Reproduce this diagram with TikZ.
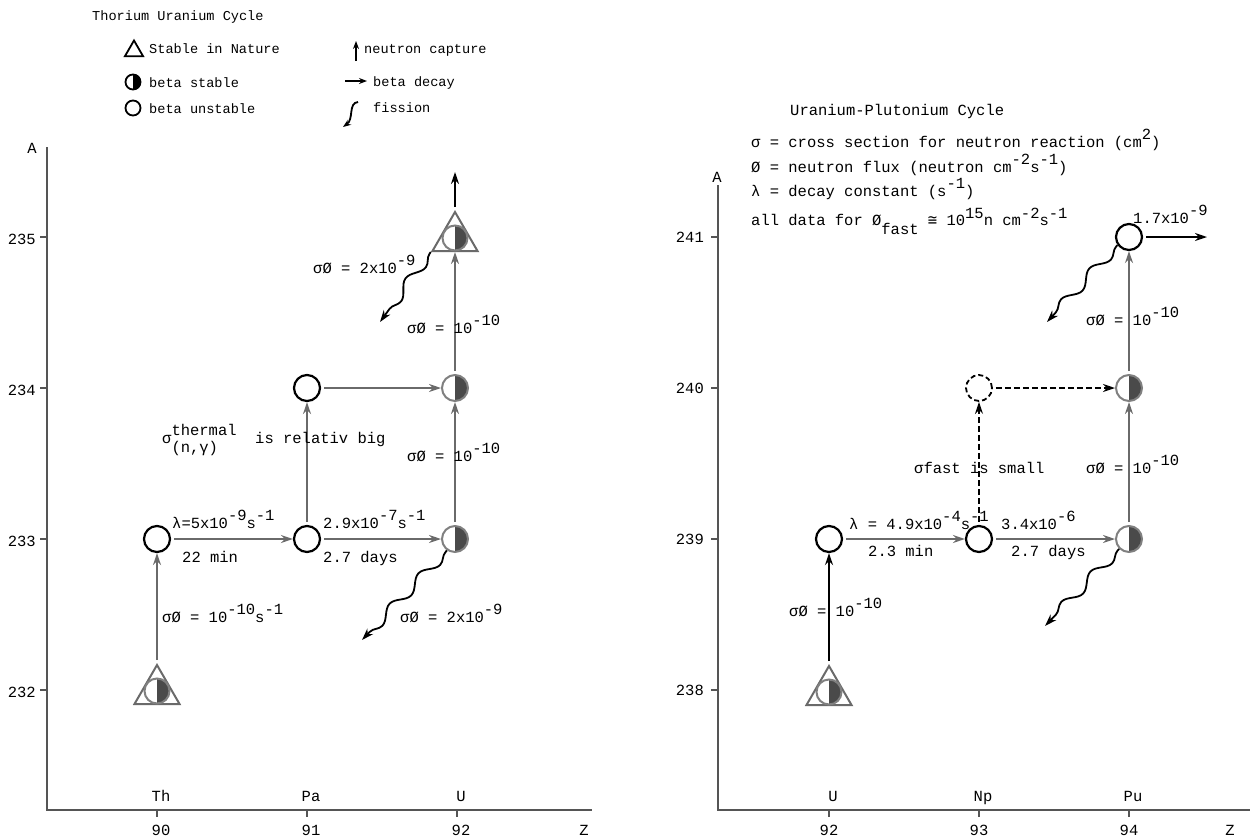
\documentclass[tikz,border=0pt]{standalone}
\usepackage{fontspec}
\setmainfont{Liberation Mono}
\newfontfamily\symfont{DejaVu Sans Mono}
\usetikzlibrary{arrows.meta,shapes.geometric,decorations.pathmorphing}

\newcommand{\up}[1]{\raisebox{0.5em}{#1}}
\newcommand{\dn}[1]{\raisebox{-0.6em}{#1}}
\definecolor{linegray}{HTML}{6A6A6A}
\definecolor{fillgray}{HTML}{4A4A4A}
\definecolor{axisgray}{HTML}{555555}

\tikzset{
  chartfont/.style={font=\fontsize{15.5}{18}\selectfont},
  legfont/.style={font=\fontsize{13.6}{16}\selectfont},
  lbl/.style={inner sep=0pt, anchor=base west},
  unstable/.style={circle, draw=black, line width=2.2pt, minimum size=26pt, inner sep=0pt},
  halfstable/.style={circle, draw=gray, line width=2pt, minimum size=26pt, inner sep=0pt,
    path picture={\fill[fillgray] (path picture bounding box.north) rectangle (path picture bounding box.south east);}},
  natural/.style={regular polygon, regular polygon sides=3, draw=linegray, line width=2pt,
    minimum size=52pt, inner sep=0pt},
  decay/.style={draw=linegray, line width=2pt, -{Stealth[length=12pt,width=8pt]}, shorten <=3pt},
  capture/.style={draw=black, line width=2pt, -{Stealth[length=12pt,width=8pt]}, shorten <=3pt},
  weak/.style={capture, line width=1.8pt, dash pattern=on 6pt off 3pt},
  fission/.style={draw=black, line width=1.8pt, -{Stealth[length=12pt,width=8pt]},
    decorate, decoration={snake, segment length=42pt, amplitude=5pt, pre length=2pt, post length=10pt}},
  axisline/.style={draw=axisgray, line width=2pt},
}

\begin{document}
\begin{tikzpicture}[x=1pt,y=-1pt]
\useasboundingbox (0,0) rectangle (1253,839);

% legend, left
\node[legfont,lbl] (thtitle) at (92,20) {Thorium Uranium Cycle};
\node[regular polygon, regular polygon sides=3, draw, line width=1.8pt, minimum size=21pt, inner sep=0pt] (legtri) at (134,51) {};
\node[circle, draw, line width=1.8pt, minimum size=15pt, inner sep=0pt,
  path picture={\fill (path picture bounding box.north) rectangle (path picture bounding box.south east);}] (leghalf) at (133,82) {};
\node[circle, draw, line width=1.8pt, minimum size=15pt, inner sep=0pt] (legcirc) at (133,108) {};
\node[legfont,lbl] (legtritxt) at (149,53) {Stable in Nature};
\node[legfont,lbl] (leghalftxt) at (149,87) {beta stable};
\node[legfont,lbl] (legcirctxt) at (149,113) {beta unstable};
\coordinate (lcapa) at (356,61);
\coordinate (lcapb) at (356,41);
\draw[line width=1.8pt, -{Stealth[length=8pt,width=6pt]}] (lcapa) -- (lcapb);
\coordinate (ldeca) at (345,81);
\coordinate (ldecb) at (367,81);
\draw[line width=1.8pt, -{Stealth[length=8pt,width=6pt]}] (ldeca) -- (ldecb);
\coordinate (lfisa) at (358,102);
\coordinate (lfisb) at (343,127);
\draw[line width=1.8pt, -{Stealth[length=8pt,width=6pt]}] (lfisa) .. controls (348,103) and (354,119) .. (lfisb);
\node[legfont,lbl] (lcaptxt) at (364,53) {neutron capture};
\node[legfont,lbl] (ldectxt) at (373,86) {beta decay};
\node[legfont,lbl] (lfistxt) at (373,112) {fission};

% axes, left
\coordinate (lytop) at (47,147);
\coordinate (lorig) at (47,810);
\coordinate (lxend) at (592,810);
\draw[axisline] (lytop) -- (lorig) -- (lxend);
\node[chartfont,inner sep=0pt] (lalabel) at (32,148) {A};
\node[chartfont,inner sep=0pt] (lzlabel) at (584,830) {Z};
\foreach \a/\y in {232/690,233/539,234/388,235/237} {
  \draw[axisline] (40,\y) -- (47,\y);
  \node[chartfont,anchor=east,inner sep=0pt] (la\a) at (36,\y+2) {\a};
}
\foreach \z/\x/\el in {90/157/Th,91/307/Pa,92/457/U} {
  \draw[axisline] (\x,810) -- (\x,817);
  \node[chartfont,inner sep=0pt] (lz\z) at (\x+4,830) {\z};
  \node[chartfont,inner sep=0pt,anchor=base] (lel\z) at (\x+4,801) {\el};
}

% nuclides, left
\node[natural] (th232) at (157,691) {};
\node[halfstable, minimum size=25pt] (th232c) at (th232) {};
\node[unstable] (th233) at (157,539) {};
\node[unstable] (pa233) at (307,539) {};
\node[unstable] (pa234) at (307,388) {};
\node[halfstable] (u233) at (455,539) {};
\node[halfstable] (u234) at (455,388) {};
\node[natural] (u235) at (455,238) {};
\node[halfstable, minimum size=25pt] (u235c) at (u235) {};

\draw[decay] (th232) -- (th233);
\draw[decay] (th233) -- (pa233);
\draw[decay] (pa233) -- (u233);
\draw[decay] (pa233) -- (pa234);
\draw[decay] (pa234) -- (u234);
\draw[decay] (u233) -- (u234);
\draw[decay] (u234) -- (u235);
\coordinate (u235out) at (455,172);
\draw[capture] (u235) -- (u235out);
\coordinate (u233fis) at (362,640);
\draw[fission] (u233.235) -- (u233fis);
\coordinate (u235fis) at (380,322);
\draw[fission] (u235.corner 2) -- (u235fis);

\node[chartfont,lbl] (lam1) at (172,528) {λ=5x10\up{-9}s\up{-1}};
\node[chartfont,lbl] (half1) at (182,562) {22 min};
\node[chartfont,lbl] (lam2) at (323,528) {2.9x10\up{-7}s\up{-1}};
\node[chartfont,lbl] (half2) at (323,562) {2.7 days};
\node[chartfont,lbl] (sth232) at (162,622) {σØ = 10\up{-10}s\up{-1}};
\node[chartfont,lbl] (fu233) at (400,622) {σØ = 2x10\up{-9}};
\node[chartfont,lbl] (su233) at (407,461) {σØ = 10\up{-10}};
\node[chartfont,lbl] (su234) at (407,333) {σØ = 10\up{-10}};
\node[chartfont,lbl] (fu235) at (313,273) {σØ = 2x10\up{-9}};
\node[chartfont,lbl] (thermal) at (162,443) {σ\rlap{\dn{(n,γ)}}\up{thermal}~~is relativ big};

% header, right
\node[chartfont,lbl] (putitle) at (790,115) {Uranium-Plutonium Cycle};
\node[chartfont,lbl] (defsig) at (751,147) {σ = cross section for neutron reaction (cm\up{2})};
\node[chartfont,lbl] (defphi) at (751,172) {Ø = neutron flux (neutron cm\up{-2}s\up{-1})};
\node[chartfont,lbl] (deflam) at (751,196) {λ = decay constant (s\up{-1})};
\node[chartfont,lbl] (defall) at (751,225) {all data for Ø\dn{fast} {\symfont ≅} 10\raisebox{0.45em}{15}n cm\raisebox{0.45em}{-2}s\raisebox{0.45em}{-1}};

% axes, right
\coordinate (rytop) at (718,185);
\coordinate (rorig) at (718,810);
\coordinate (rxend) at (1250,810);
\draw[axisline] (rytop) -- (rorig) -- (rxend);
\node[chartfont,inner sep=0pt] (ralabel) at (717,177) {A};
\node[chartfont,inner sep=0pt] (rzlabel) at (1230,830) {Z};
\foreach \a/\y in {238/690,239/539,240/388,241/237} {
  \draw[axisline] (711,\y) -- (718,\y);
  \node[chartfont,anchor=east,inner sep=0pt] (ra\a) at (704,\y) {\a};
}
\foreach \z/\x/\el in {92/829/U,93/979/Np,94/1129/Pu} {
  \draw[axisline] (\x,810) -- (\x,817);
  \node[chartfont,inner sep=0pt] (rz\z) at (\x,830) {\z};
  \node[chartfont,inner sep=0pt,anchor=base] (rel\z) at (\x+4,801) {\el};
}

% nuclides, right
\node[natural] (u238) at (829,692) {};
\node[halfstable, minimum size=25pt] (u238c) at (u238) {};
\node[unstable] (u239) at (829,539) {};
\node[unstable] (np239) at (979,539) {};
\node[unstable, dash pattern=on 5pt off 3pt, line width=1.8pt] (np240) at (979,388) {};
\node[halfstable] (pu239) at (1129,539) {};
\node[halfstable] (pu240) at (1129,388) {};
\node[unstable] (pu241) at (1129,237) {};

\draw[capture] (u238) -- (u239);
\draw[decay] (u239) -- (np239);
\draw[decay] (np239) -- (pu239);
\draw[weak] (np239) -- (np240);
\draw[weak] (np240) -- (pu240);
\draw[decay] (pu239) -- (pu240);
\draw[decay] (pu240) -- (pu241);
\coordinate (pu241out) at (1207,237);
\draw[capture] (pu241) -- (pu241out);
\coordinate (pu241fis) at (1047,322);
\draw[fission] (pu241.215) -- (pu241fis);
\coordinate (pu239fis) at (1045,626);
\draw[fission] (pu239.225) -- (pu239fis);

\node[chartfont,lbl] (lam3) at (849,529) {λ = 4.9x10\up{-4}s\up{-1}};
\node[chartfont,lbl] (half3) at (868,556) {2.3 min};
\node[chartfont,lbl] (lam4) at (1001,529) {3.4x10\up{-6}};
\node[chartfont,lbl] (half4) at (1011,556) {2.7 days};
\node[chartfont,lbl] (su238) at (789,616) {σØ = 10\up{-10}};
\node[chartfont,lbl] (fastsmall) at (914,473) {σfast is small};
\node[chartfont,lbl] (spu239) at (1086,473) {σØ = 10\up{-10}};
\node[chartfont,lbl] (spu240) at (1086,325) {σØ = 10\up{-10}};
\node[chartfont,lbl] (lam5) at (1133,223) {1.7x10\up{-9}};
\end{tikzpicture}
\end{document}
